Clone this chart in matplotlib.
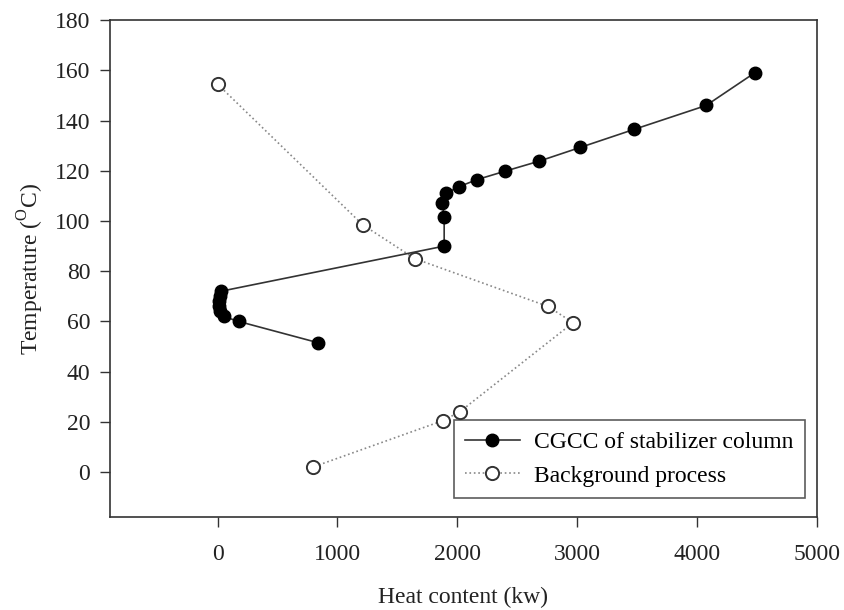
#!/usr/bin/env python

import numpy as np
import matplotlib
matplotlib.use('Agg')
import matplotlib.pyplot as plt

# CGCC of stabilizer column (filled markers)
cgcc_heat = [840, 175, 50, 20, 10, 15, 20, 25, 1890, 1890, 1875, 1905, 2015, 2165, 2395, 2680, 3025, 3475, 4075, 4480]
cgcc_temp = [51.5, 60, 62, 64, 66, 68, 70, 72, 90, 101.5, 107, 111, 113.7, 116.5, 119.8, 123.8, 129.3, 136.5, 146, 159]

# background process (open markers)
bg_heat = [0, 1210, 1645, 2755, 2965, 2020, 1880, 795]
bg_temp = [154.5, 98.5, 85, 66, 59.5, 24, 20.5, 2]

x_ticks = [0, 1000, 2000, 3000, 4000, 5000]
y_ticks = [0, 20, 40, 60, 80, 100, 120, 140, 160, 180]


def main():
    plt.rcParams['font.family'] = ['Liberation Serif', 'DejaVu Serif']
    plt.rcParams['mathtext.fontset'] = 'custom'
    plt.rcParams['mathtext.rm'] = 'Liberation Serif'
    plt.rcParams['font.size'] = 17

    fig = plt.figure(figsize=(8.44, 6.10), dpi=100)
    ax = fig.add_axes([0.130, 0.152, 0.838, 0.815])

    ax.plot(cgcc_heat, cgcc_temp, '-', color='#333333', lw=1.2,
            marker='o', ms=9, mfc='black', mec='black',
            label='CGCC of stabilizer column', zorder=3)
    ax.plot(bg_heat, bg_temp, ':', color='#888888', lw=1.2,
            marker='o', ms=9.5, mfc='white', mec='#333333', mew=1.4,
            label='Background process', zorder=2)

    ax.set_xlim(-900, 5000)
    ax.set_ylim(-18, 180)
    ax.set_xticks(x_ticks)
    ax.set_yticks(y_ticks)
    ax.tick_params(direction='out', length=7, width=1, color='#333333',
                   labelcolor='#222222', pad=7)
    ax.tick_params(axis='x', pad=12)
    for s in ax.spines.values():
        s.set_linewidth(1.2)
        s.set_color('#333333')

    ax.set_xlabel('Heat content (kw)', color='#222222', labelpad=16)
    ax.set_ylabel(r'Temperature ($^{\rm O}$C)', color='#222222', labelpad=6)

    leg = ax.legend(loc='lower right', bbox_to_anchor=(0.983, 0.038),
                    frameon=True, fancybox=False, edgecolor='#333333',
                    handlelength=2.3, borderpad=0.5, labelspacing=0.5,
                    handletextpad=0.6, borderaxespad=0)
    leg.get_frame().set_linewidth(1.2)
    leg.set_zorder(1)

    plt.savefig('out.png', dpi=100)


if __name__ == '__main__':
    main()
